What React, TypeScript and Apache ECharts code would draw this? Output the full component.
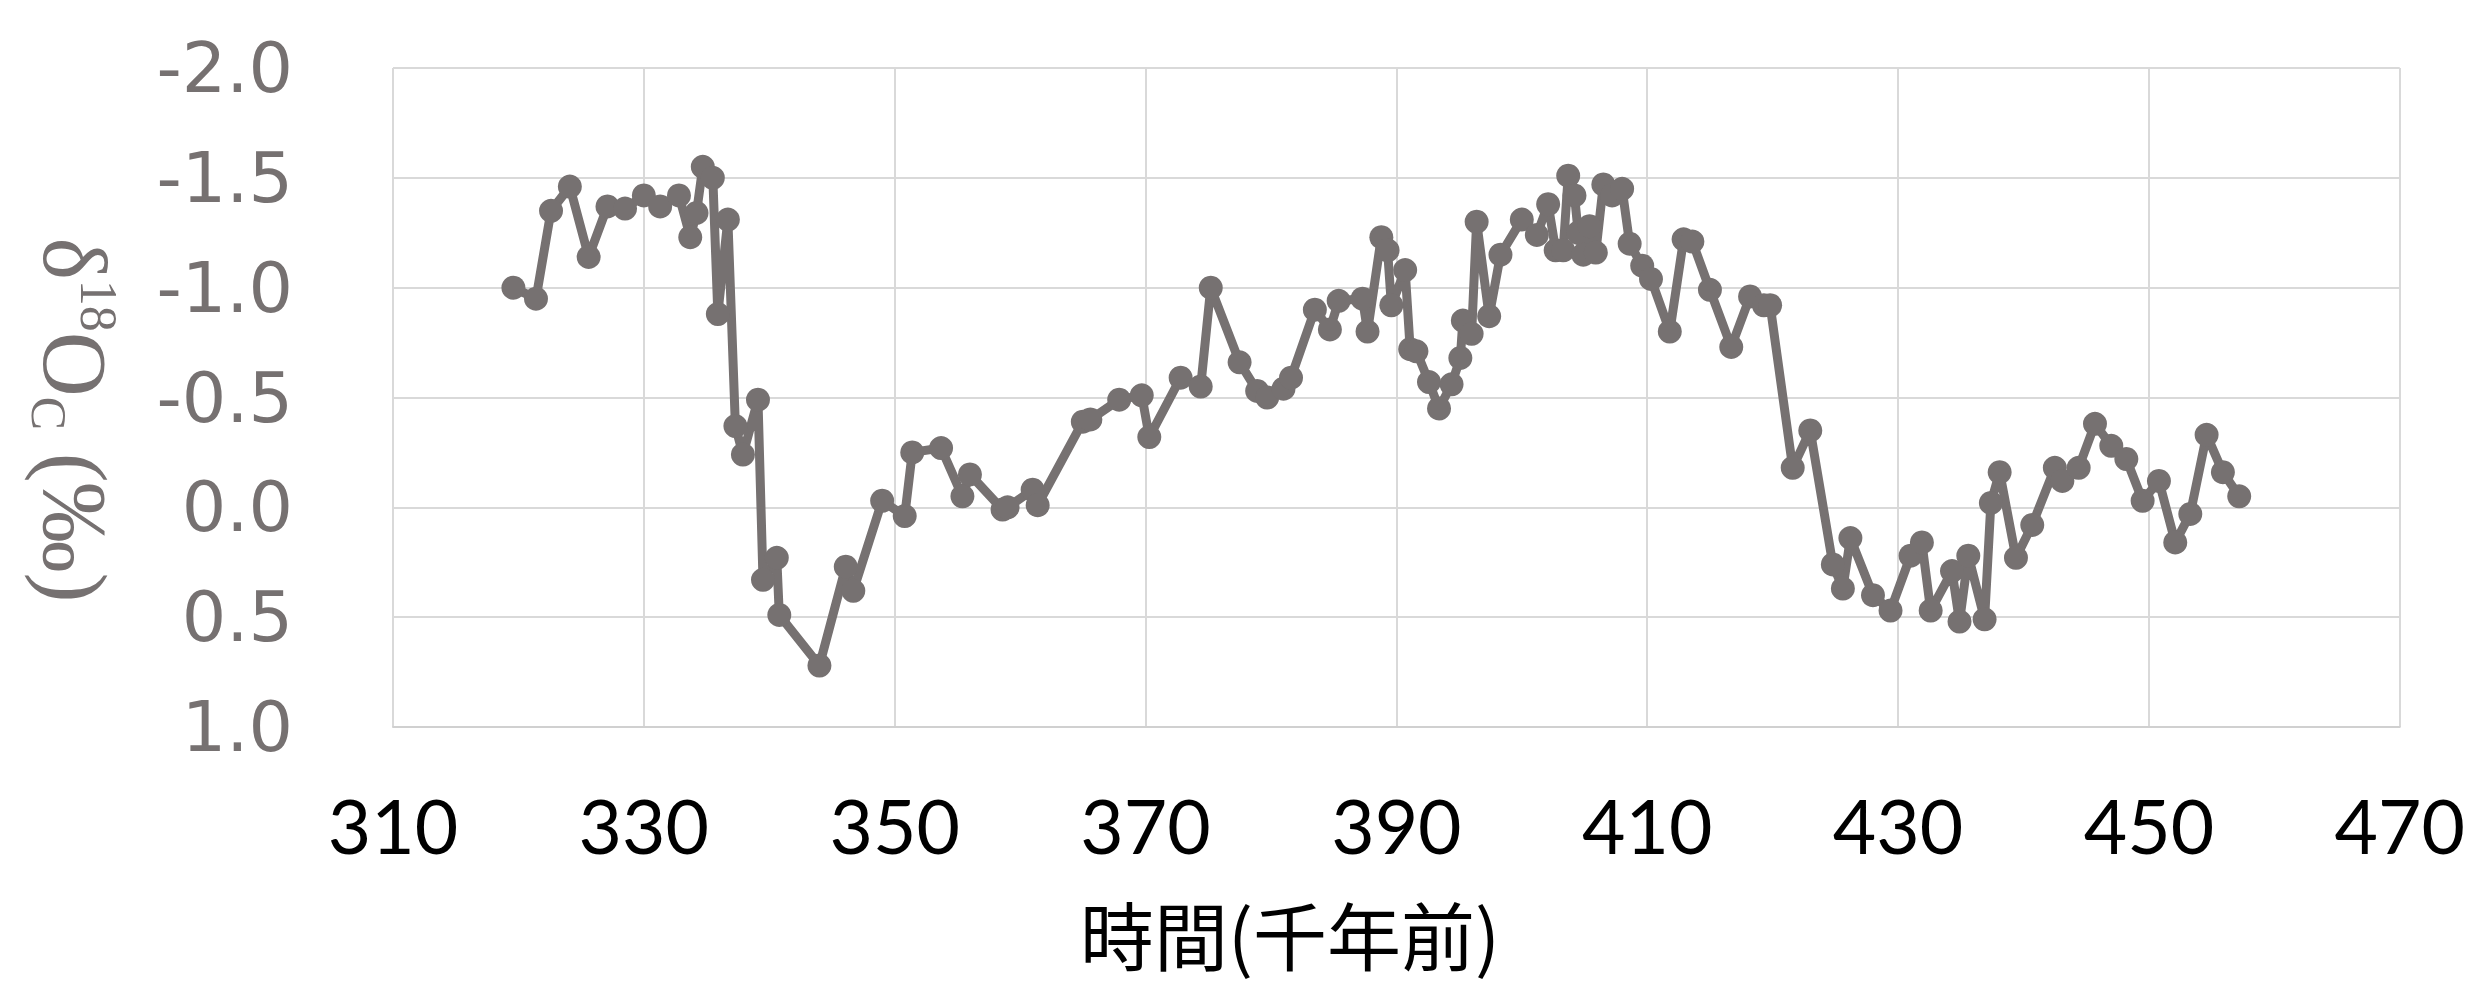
import React, { useEffect, useRef } from "react";
import * as echarts from "echarts";

const times = [
  319.6, 321.4, 322.6, 324.1, 325.6, 327.1, 328.5, 330.0, 331.3, 332.8,
  333.7, 334.2, 334.7, 335.5, 335.9, 336.7, 337.3, 337.9, 339.1, 339.5,
  340.6, 340.8, 344.0, 346.1, 346.7, 349.0, 350.8, 351.4, 353.7, 355.4,
  356.0, 358.6, 359.0, 361.0, 361.4, 365.0, 365.6, 367.9, 369.7, 370.3,
  372.8, 374.4, 375.2, 377.5, 378.9, 379.7, 381.0, 381.6, 383.5, 384.7,
  385.4, 387.3, 387.7, 388.8, 389.3, 389.6, 390.7, 391.1, 391.6, 392.6,
  393.4, 394.4, 395.1, 395.3, 396.0, 396.4, 397.4, 398.3, 400.0, 401.2,
  402.1, 402.7, 403.3, 403.7, 404.2, 404.5, 404.9, 405.4, 405.9, 406.5,
  407.2, 408.0, 408.6, 409.6, 410.3, 411.8, 412.9, 413.6, 415.0, 416.7,
  418.2, 419.3, 419.8, 421.6, 423.0, 424.8, 425.6, 426.2, 428.0, 429.4,
  431.0, 431.9, 432.6, 434.3, 434.9, 435.6, 436.9, 437.4, 438.1, 439.4,
  440.7, 442.5, 443.1, 444.4, 445.7, 447.0, 448.2, 449.5, 450.8, 452.1,
  453.3, 454.6, 455.9, 457.2,
];

const values = [
  -1.0, -0.95, -1.35, -1.46, -1.14, -1.37, -1.36, -1.42, -1.37, -1.42,
  -1.23, -1.34, -1.55, -1.5, -0.88, -1.31, -0.37, -0.24, -0.49, 0.33,
  0.23, 0.49, 0.72, 0.27, 0.38, -0.03, 0.04, -0.25, -0.27, -0.05,
  -0.15, 0.01, 0.0, -0.08, -0.01, -0.39, -0.4, -0.49, -0.51, -0.32,
  -0.59, -0.55, -1.0, -0.66, -0.53, -0.5, -0.54, -0.59, -0.9, -0.81,
  -0.94, -0.95, -0.8, -1.23, -1.17, -0.92, -1.08, -0.72, -0.71, -0.57,
  -0.45, -0.56, -0.68, -0.85, -0.79, -1.3, -0.87, -1.15, -1.31, -1.24,
  -1.38, -1.17, -1.17, -1.51, -1.42, -1.25, -1.15, -1.28, -1.16, -1.47,
  -1.42, -1.45, -1.2, -1.1, -1.04, -0.8, -1.22, -1.21, -0.99, -0.73,
  -0.96, -0.92, -0.92, -0.18, -0.35, 0.26, 0.37, 0.14, 0.4, 0.47,
  0.22, 0.16, 0.47, 0.29, 0.52, 0.22, 0.51, -0.02, -0.16, 0.23,
  0.08, -0.18, -0.12, -0.18, -0.38, -0.28, -0.22, -0.03, -0.12, 0.16,
  0.03, -0.33, -0.16, -0.05,
];

const xTitle = "時間(千年前)";
const yTitleRich = "{a|δ}{sup|18}{a|O}{sub|C}{a| (‰)}";

export default function App() {
  const ref = useRef<HTMLDivElement>(null);
  useEffect(() => {
    if (!ref.current) return;
    const chart = echarts.init(ref.current, null, { renderer: "svg" });
    const data = times.map((t, i) => [t, values[i]]);
    const gray = "#767171";
    chart.setOption({
      animation: false,
      backgroundColor: "#ffffff",
      grid: { left: 393, top: 68, right: 58, bottom: 263, containLabel: false },
      xAxis: {
        type: "value",
        min: 310,
        max: 470,
        interval: 20,
        axisLine: { show: true, onZero: false, lineStyle: { color: "#d0d0d0", width: 2 } },
        axisTick: { show: false },
        axisLabel: { color: "#000000", fontFamily: "Lato", fontSize: 75, margin: 60 },
        splitLine: { show: true, lineStyle: { color: "#d9d9d9", width: 2 } },
      },
      yAxis: {
        type: "value",
        inverse: true,
        min: -2,
        max: 1,
        interval: 0.5,
        axisLine: { show: false },
        axisTick: { show: false },
        axisLabel: {
          color: gray,
          fontFamily: "DejaVu Sans",
          fontSize: 70,
          margin: 100,
          formatter: (v: number) => v.toFixed(1),
        },
        splitLine: { show: true, lineStyle: { color: "#d9d9d9", width: 2 } },
      },
      series: [
        {
          type: "line",
          data,
          symbol: "circle",
          symbolSize: 24,
          lineStyle: { color: gray, width: 9 },
          itemStyle: { color: gray },
          z: 3,
        },
      ],
      graphic: [
        {
          type: "text",
          x: 1290,
          y: 932,
          style: {
            text: xTitle,
            fontFamily: "Noto Sans CJK TC",
            fontSize: 74,
            fill: "#000000",
            align: "center",
            verticalAlign: "middle",
          },
        },
        {
          type: "text",
          x: 74,
          y: 420,
          rotation: -Math.PI / 2,
          style: {
            text: yTitleRich,
            align: "center",
            verticalAlign: "middle",
            fill: gray,
            rich: {
              a: { fontFamily: "Liberation Serif", fontSize: 90, lineHeight: 100, fill: gray, verticalAlign: "middle" },
              sup: { fontFamily: "Liberation Serif", fontSize: 52, lineHeight: 52, fill: gray, verticalAlign: "top" },
              sub: { fontFamily: "Liberation Serif", fontSize: 50, lineHeight: 50, fill: gray, verticalAlign: "bottom" },
            },
          },
        },
      ],
    });
    return () => chart.dispose();
  }, []);
  return (
    <div
      ref={ref}
      style={{ position: "fixed", left: 0, top: 0, width: 2468, height: 990 }}
    />
  );
}
